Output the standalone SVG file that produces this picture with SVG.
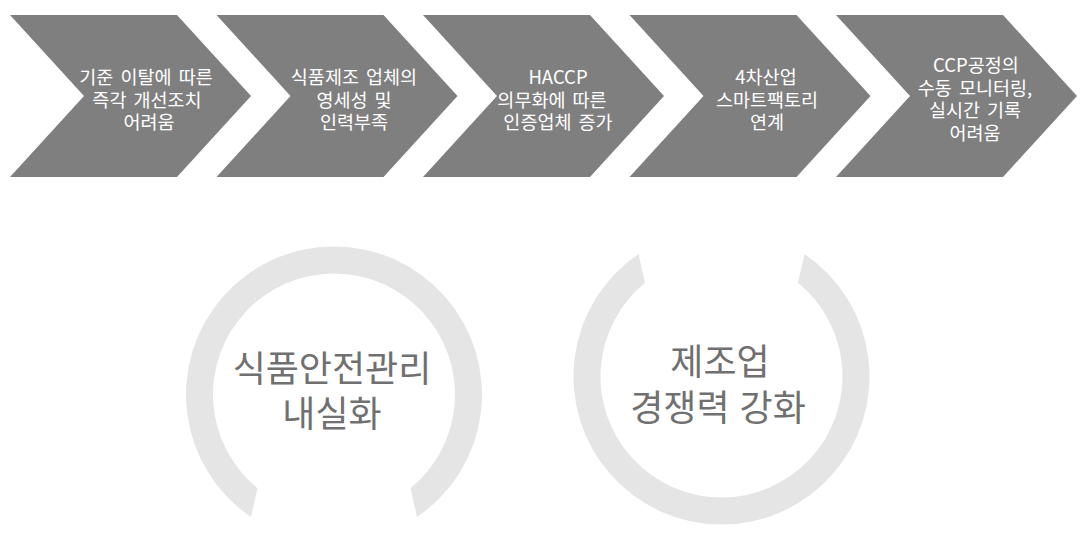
<svg xmlns="http://www.w3.org/2000/svg" width="1088" height="534" viewBox="0 0 1088 534">
<style>
.chev{fill:#7f7f7f}
.ct{font-family:"Noto Sans CJK KR","Noto Sans",sans-serif;font-size:18.5px;fill:#ffffff;text-anchor:middle;word-spacing:3px}
.ring{fill:#e5e5e5}
.rt{font-family:"Noto Sans CJK KR","Noto Sans",sans-serif;font-size:36px;fill:#707070;text-anchor:middle;word-spacing:2px}
</style>
<rect width="1088" height="534" fill="#ffffff"/>
<g id="step1">
<path class="chev" d="M10,15 H177 L251,96 L177,177 H10 L84,96 Z"/>
<text class="ct"><tspan x="146" y="84">기준 이탈에 따른</tspan><tspan x="147" y="106.5">즉각 개선조치</tspan><tspan x="149" y="129">어려움</tspan></text>
</g>
<g id="step2">
<path class="chev" d="M216.5,15 H383.5 L457.5,96 L383.5,177 H216.5 L290.5,96 Z"/>
<text class="ct"><tspan x="354" y="84">식품제조 업체의</tspan><tspan x="354" y="106.5">영세성 및</tspan><tspan x="354" y="129">인력부족</tspan></text>
</g>
<g id="step3">
<path class="chev" d="M423,15 H590 L664,96 L590,177 H423 L497,96 Z"/>
<text class="ct"><tspan x="558" y="84">HACCP</tspan><tspan x="552" y="106.5">의무화에 따른</tspan><tspan x="558" y="129">인증업체 증가</tspan></text>
</g>
<g id="step4">
<path class="chev" d="M629.5,15 H796.5 L870.5,96 L796.5,177 H629.5 L703.5,96 Z"/>
<text class="ct"><tspan x="766" y="84">4차산업</tspan><tspan x="767" y="106.5">스마트팩토리</tspan><tspan x="767" y="129">연계</tspan></text>
</g>
<g id="step5">
<path class="chev" d="M836,15 H1003 L1077,96 L1003,177 H836 L910,96 Z"/>
<text class="ct"><tspan x="976" y="72">CCP공정의</tspan><tspan x="975" y="94.5">수동 모니터링,</tspan><tspan x="975" y="117">실시간 기록</tspan><tspan x="975" y="139.5">어려움</tspan></text>
</g>
<g id="goal1">
<path class="ring" d="M251,517 A148,148 0 1 1 417,517 L410.5,488.3 A121,121 0 1 0 257.5,488.3 Z"/>
<text class="rt"><tspan x="332" y="382">식품안전관리</tspan><tspan x="332" y="427">내실화</tspan></text>
</g>
<g id="goal2">
<path class="ring" d="M638.5,254 A148,148 0 1 0 804.5,254 L798,282.7 A121,121 0 1 1 645,282.7 Z"/>
<text class="rt"><tspan x="720" y="375">제조업</tspan><tspan x="718" y="421">경쟁력 강화</tspan></text>
</g>
<g id="connectors"></g>
</svg>
